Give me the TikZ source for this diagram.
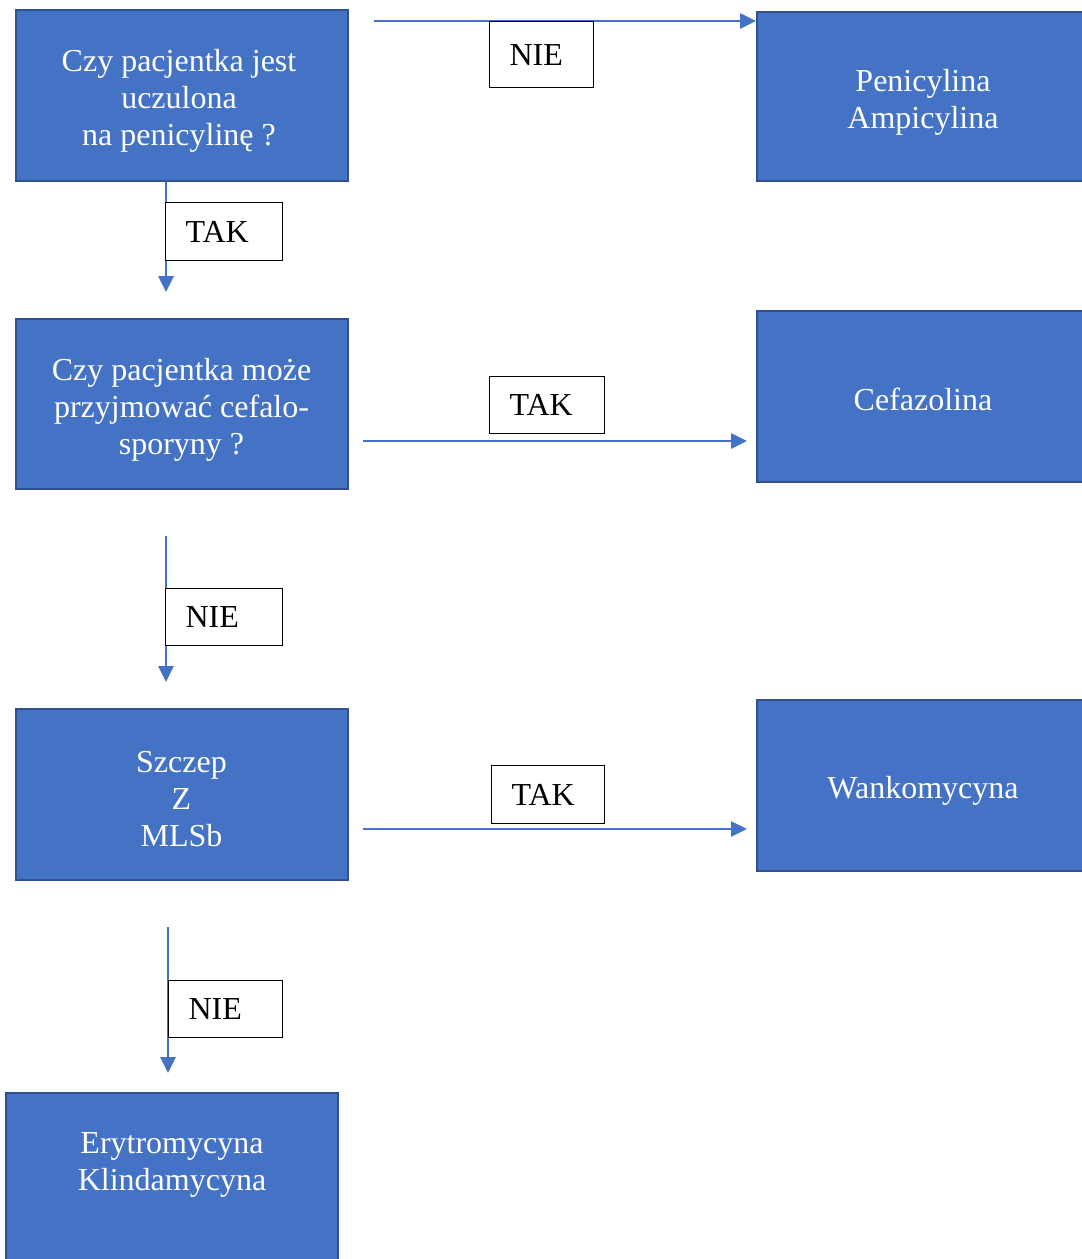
\documentclass[tikz,border=0pt]{standalone}
\usepackage{fontspec}
\setmainfont{Liberation Serif}
\usetikzlibrary{arrows.meta}
\definecolor{boxfill}{HTML}{4472C4}
\definecolor{boxline}{HTML}{2F528F}
\begin{document}
\begin{tikzpicture}[x=1pt,y=-1pt,
  box/.style={draw=boxline, line width=2pt, fill=boxfill, inner sep=0pt, minimum width=332pt},
  boxtext/.style={text=white, align=center, font=\fontsize{32}{37}\selectfont, inner sep=0pt},
  lbl/.style={draw=black, line width=1.2pt, fill=white, font=\fontsize{32}{37}\selectfont,
    inner ysep=0pt, inner xsep=20pt, anchor=north west, align=left},
  conn/.style={draw=boxfill, line width=2.6pt, -{Triangle[length=16pt,width=15pt]}}
]
\useasboundingbox (0,0) rectangle (1082,1259);

% main boxes
\node[box, minimum height=171pt] (q1) at (181.5,95.5) {};
\node[boxtext] (q1t) at (179,101) {Czy pacjentka jest\\uczulona\\na penicylinę ?};
\node[box, minimum height=170pt] (q2) at (181.5,404) {};
\node[boxtext] (q2t) at (181.5,410) {Czy pacjentka może\\przyjmować cefalo-\\sporyny ?};
\node[box, minimum height=171pt] (q3) at (181.5,794.5) {};
\node[boxtext] (q3t) at (181.5,799) {Szczep\\Z\\MLSb};
\node[box, minimum height=180pt] (r4) at (172,1183) {};
\node[boxtext] (r4t) at (172,1165) {Erytromycyna\\Klindamycyna};

\node[box, minimum height=169pt] (r1) at (923,96.5) {};
\node[boxtext] (r1t) at (923,102) {Penicylina\\Ampicylina};
\node[box, minimum height=171pt] (r2) at (923,396.5) {};
\node[boxtext] (r2t) at (923,399) {Cefazolina};
\node[box, minimum height=171pt] (r3) at (923,785.5) {};
\node[boxtext] (r3t) at (923,791) {Wankomycyna};

% connector end points
\coordinate (s1) at (374,21);
\coordinate (a1) at (166,181);
\coordinate (a1e) at (166,292);
\coordinate (s2) at (363,441);
\coordinate (e2) at (747,441);
\coordinate (a2) at (166,536);
\coordinate (a2e) at (166,682);
\coordinate (s3) at (363,829);
\coordinate (e3) at (747,829);
\coordinate (a3) at (168,927);
\coordinate (a3e) at (168,1073);

% connectors
\draw[conn] (s1) -- (s1 -| r1.west);
\draw[conn] (a1 |- q1.south) -- (a1e);
\draw[conn] (s2) -- (e2);
\draw[conn] (a2) -- (a2e);
\draw[conn] (s3) -- (e3);
\draw[conn] (a3) -- (a3e);

% labels
\node[lbl, text width=77pt, minimum height=58pt] (l1) at (165,202) {TAK};
\node[lbl, text width=64pt, minimum height=66pt] (l2) at (489,21) {NIE};
\node[lbl, text width=75pt, minimum height=57pt] (l3) at (489,376) {TAK};
\node[lbl, text width=77pt, minimum height=57pt] (l4) at (165,588) {NIE};
\node[lbl, text width=73pt, minimum height=58pt] (l5) at (491,765) {TAK};
\node[lbl, text width=74pt, minimum height=57pt] (l6) at (168,980) {NIE};
\end{tikzpicture}
\end{document}
